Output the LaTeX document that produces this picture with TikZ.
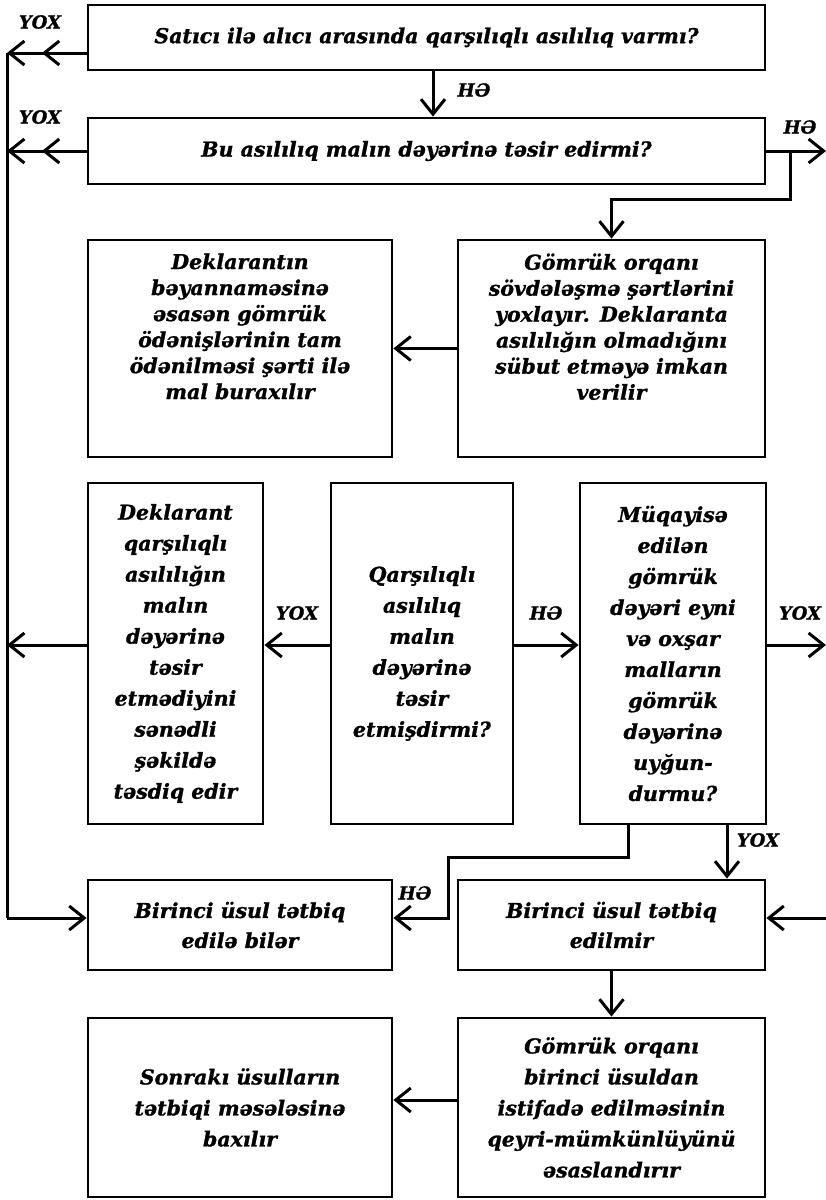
\documentclass[tikz,border=0pt]{standalone}
\usepackage{fontspec}
\setmainfont[BoldItalicFeatures={FakeBold=1.2}]{DejaVu Serif}
\usetikzlibrary{arrows.meta}
\newcommand{\toptext}[2]{\parbox[c][#1][t]{\linewidth}{\centering #2}}

\begin{document}
\begin{tikzpicture}[x=1pt,y=-1pt,line width=3pt,
  arr/.style={-{Straight Barb[length=15pt,width=24pt]}},
  dbl/.style={-{Straight Barb[length=15pt,width=24pt,sep=16pt]Straight Barb[length=15pt,width=24pt]}},
  box/.style={draw,line width=2.8pt,inner sep=0pt,align=center,
    font=\fontsize{20.5}{31}\selectfont\bfseries\itshape},
  tag/.style={font=\fontsize{18}{20}\selectfont\bfseries\itshape}]

\useasboundingbox (0,0) rectangle (826,1200);

\node[box,minimum width=677,minimum height=65] (nodeA) at (426.5,37.5) {Satıcı ilə alıcı arasında qarşılıqlı asılılıq varmı?};
\node[box,minimum width=677,minimum height=66] (nodeB) at (426.5,151) {Bu asılılıq malın dəyərinə təsir edirmi?};

\node[box,font=\fontsize{20.5}{26}\selectfont\bfseries\itshape,text width=290,minimum width=304,minimum height=217] (nodeC) at (240,348.5)
  {\toptext{190pt}{Deklarantın\\ bəyannaməsinə\\ əsasən gömrük\\ ödənişlərinin tam\\ ödənilməsi şərti ilə\\ mal buraxılır}};
\node[box,font=\fontsize{20.5}{26}\selectfont\bfseries\itshape,text width=293,minimum width=307,minimum height=217] (nodeD) at (611.5,348.5)
  {\toptext{190pt}{Gömrük orqanı\\ sövdələşmə şərtlərini\\ yoxlayır. Deklaranta\\ asılılığın olmadığını\\ sübut etməyə imkan\\ verilir}};

\node[box,minimum width=175,minimum height=341] (nodeE) at (175.5,653.5) {Deklarant\\ qarşılıqlı\\ asılılığın\\ malın\\ dəyərinə\\ təsir\\ etmədiyini\\ sənədli\\ şəkildə\\ təsdiq edir};
\node[box,minimum width=182,minimum height=341] (nodeF) at (422,653.5) {Qarşılıqlı\\ asılılıq\\ malın\\ dəyərinə\\ təsir\\ etmişdirmi?};
\node[box,minimum width=186,minimum height=341] (nodeG) at (673,653.5) {Müqayisə\\ edilən\\ gömrük\\ dəyəri eyni\\ və oxşar\\ malların\\ gömrük\\ dəyərinə\\ uyğun-\\ durmu?};

\node[box,font=\fontsize{20.5}{30}\selectfont\bfseries\itshape,minimum width=304,minimum height=90] (nodeH) at (240,925) {Birinci üsul tətbiq\\ edilə bilər};
\node[box,font=\fontsize{20.5}{30}\selectfont\bfseries\itshape,minimum width=307,minimum height=90] (nodeI) at (611.5,925) {Birinci üsul tətbiq\\ edilmir};

\node[box,minimum width=304,minimum height=179] (nodeJ) at (240,1107.5) {Sonrakı üsulların\\ tətbiqi məsələsinə\\ baxılır};
\node[box,minimum width=307,minimum height=179] (nodeK) at (611.5,1107.5) {Gömrük orqanı\\ birinci üsuldan\\ istifadə edilməsinin\\ qeyri-mümkünlüyünü\\ əsaslandırır};

\node[tag] (tagA) at (40,22) {YOX};
\node[tag] (tagB) at (40,117) {YOX};
\node[tag] (tagC) at (474,90) {HƏ};
\node[tag] (tagD) at (800,127) {HƏ};
\node[tag] (tagE) at (297,613) {YOX};
\node[tag] (tagF) at (546,613) {HƏ};
\node[tag] (tagG) at (800,613) {YOX};
\node[tag] (tagH) at (415,893) {HƏ};
\node[tag] (tagI) at (758,840) {YOX};

\coordinate (spineTop) at (7,53);
\coordinate (spineBot) at (7,918);
\coordinate (rowC) at (0,645);
\coordinate (forkA) at (790,151);
\coordinate (forkB) at (790,199);
\coordinate (edgeB) at (826,151);
\coordinate (edgeC) at (826,645);
\coordinate (edgeD) at (826,918);
\coordinate (turnA) at (628,857);
\coordinate (turnB) at (448,857);
\coordinate (turnC) at (448,918);
\coordinate (colY) at (727,0);

\draw (spineTop) -- (spineBot);
\draw[arr] (spineBot) -- (spineBot -| nodeH.west);
\draw[dbl] (nodeA.west |- spineTop) -- (spineTop);
\draw[dbl] (nodeB.west) -- (nodeB.west -| spineTop);

\draw[arr] ([xshift=6.5]nodeA.south) -- ([xshift=6.5]nodeB.north);
\draw[arr] (nodeB.east) -- (edgeB);
\draw[arr] (forkA) -- (forkB) -- (forkB -| nodeD.north) -- (nodeD.north);
\draw[arr] (nodeD.west) -- (nodeC.east);

\draw[arr] (nodeF.west |- rowC) -- (nodeE.east |- rowC);
\draw[arr] (nodeF.east |- rowC) -- (nodeG.west |- rowC);
\draw[arr] (nodeE.west |- rowC) -- (spineTop |- rowC);
\draw[arr] (nodeG.east |- rowC) -- (edgeC);

\draw[arr] (nodeG.south -| turnA) -- (turnA) -- (turnB) -- (turnC) -- (turnC -| nodeH.east);
\draw[arr] (nodeG.south -| colY) -- (nodeI.north -| colY);
\draw[arr] (edgeD) -- (edgeD -| nodeI.east);
\draw[arr] (nodeI.south) -- (nodeK.north);
\draw[arr] ([yshift=7.5]nodeK.west) -- ([yshift=7.5]nodeJ.east);

\end{tikzpicture}
\end{document}
